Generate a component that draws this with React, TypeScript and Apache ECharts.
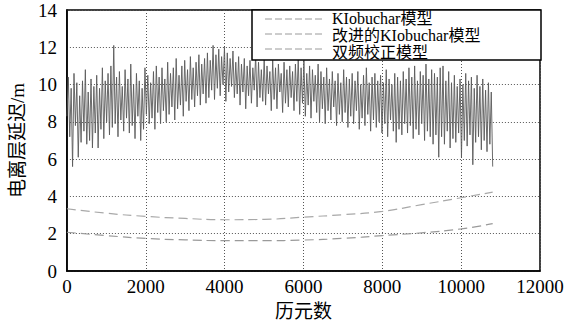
import React, { useEffect, useRef } from "react";
import * as echarts from "echarts";

// x ticks / y ticks
const xTicks = [0, 2000, 4000, 6000, 8000, 10000, 12000];
const yTicks = [0, 2, 4, 6, 8, 10, 12, 14];

// noisy dual-frequency series, one value every 36 epochs from 0 to 10800
const dualStep = 36;
const dualValues = [
  8.3, 10.4, 7.2, 9.8, 5.6, 10.6, 7.8, 10.1, 6.1, 9.4, 6.9, 10.2, 7.5, 10.8, 6.8, 9.6, 7.0, 10.3, 6.6, 9.9,
  7.4, 10.5, 6.6, 9.8, 7.6, 10.9, 7.1, 10.2, 8.0, 10.6, 7.3, 11.0, 7.7, 12.1, 7.9, 10.4, 7.2, 10.7, 8.1, 9.9,
  7.5, 10.8, 8.2, 10.3, 7.4, 11.1, 7.8, 10.0, 7.1, 10.6, 8.3, 10.2, 7.0, 9.8, 7.6, 10.9, 8.4, 10.5, 7.9, 10.1,
  8.2, 10.7, 7.6, 11.0, 8.5, 10.4, 7.9, 10.9, 8.6, 10.3, 8.0, 11.2, 8.4, 10.6, 8.8, 10.9, 8.1, 11.4, 8.7, 10.5,
  8.9, 11.0, 8.3, 11.3, 9.1, 10.8, 8.6, 11.5, 9.2, 10.9, 8.8, 11.2, 9.4, 11.6, 8.9, 11.1, 9.5, 11.4, 9.0, 11.7,
  9.3, 11.3, 9.7, 12.1, 9.2, 11.6, 9.8, 11.9, 9.4, 11.5, 10.0, 12.0, 9.1, 11.7, 9.6, 11.4, 9.9, 11.8, 9.3, 11.2,
  9.5, 11.5, 8.9, 11.1, 9.6, 11.4, 8.7, 11.0, 9.4, 11.3, 9.0, 10.9, 9.7, 11.6, 8.8, 11.2, 9.3, 10.8, 9.1, 11.4,
  8.9, 11.0, 9.5, 10.7, 8.6, 11.3, 9.2, 10.9, 8.7, 11.1, 9.6, 10.6, 8.5, 11.2, 9.0, 10.8, 8.8, 11.0, 9.3, 10.7,
  8.6, 11.1, 9.1, 11.4, 8.4, 10.9, 9.0, 11.3, 8.3, 10.6, 8.9, 11.0, 8.2, 10.8, 9.1, 10.5, 8.5, 11.1, 8.0, 10.7,
  8.7, 10.4, 7.9, 10.9, 8.6, 10.3, 8.1, 10.7, 8.8, 10.2, 7.8, 10.6, 8.4, 10.1, 8.0, 10.8, 8.5, 10.4, 7.7, 10.3,
  8.3, 10.6, 7.9, 10.2, 8.6, 10.7, 7.6, 10.0, 8.2, 10.5, 7.8, 10.9, 8.4, 10.1, 7.5, 10.4, 8.1, 10.6, 7.7, 10.2,
  8.0, 10.5, 7.4, 10.1, 7.9, 10.8, 7.2, 10.3, 8.1, 10.0, 7.5, 10.6, 6.9, 10.4, 7.6, 10.2, 7.3, 10.7, 7.9, 10.3,
  7.4, 10.9, 7.8, 10.4, 7.1, 11.0, 7.6, 10.2, 7.3, 10.7, 7.9, 10.5, 7.0, 11.1, 7.5, 10.3, 7.2, 10.8, 6.8, 10.6,
  7.3, 10.4, 6.1, 10.9, 7.2, 11.0, 6.8, 10.2, 7.5, 10.7, 6.6, 10.1, 7.1, 10.5, 6.9, 9.9, 7.4, 10.3, 6.1, 10.0,
  7.0, 10.6, 6.7, 10.2, 7.3, 10.4, 5.7, 9.8, 6.9, 10.5, 7.2, 9.9, 6.5, 10.3, 7.0, 9.7, 6.4, 10.1, 6.8, 9.6,
  5.6,
];

// smooth model curves
const modelEpochs = [0, 1000, 2000, 3000, 4000, 5000, 6000, 7000, 8000, 9000, 10000, 10800];
const klobucharValues = [3.34, 3.1, 2.93, 2.82, 2.75, 2.77, 2.89, 3.02, 3.2, 3.56, 3.93, 4.23];
const improvedValues = [2.08, 1.9, 1.75, 1.67, 1.63, 1.63, 1.66, 1.75, 1.9, 2.05, 2.26, 2.54];

const legendNames = ["KIobuchar模型", "改进的KIobuchar模型", "双频校正模型"];
const xName = "历元数";
const yName = "电离层延迟/m";

const FONT_FAMILY = '"Liberation Serif", "Noto Sans CJK SC", serif';

export default function App() {
  const ref = useRef<HTMLDivElement>(null);
  useEffect(() => {
    if (!ref.current) return;
    const chart = echarts.init(ref.current, undefined, { renderer: "svg" });
    const dualData = dualValues.map((v, i) => [i * dualStep, v]);
    const kloData = modelEpochs.map((e, i) => [e, klobucharValues[i]]);
    const impData = modelEpochs.map((e, i) => [e, improvedValues[i]]);

    const legendX0 = 265;
    const legendX1 = 323;
    const legendRows = [19, 34, 49];
    const textRows = [18, 35, 52];

    const graphics: any[] = [
      {
        type: "rect",
        z: 100,
        shape: { x: 252, y: 10, width: 289, height: 50 },
        style: { fill: "#fff", stroke: "#000", lineWidth: 1.5 },
      },
    ];
    legendNames.forEach((name, i) => {
      graphics.push({
        type: "line",
        z: 101,
        shape: { x1: legendX0, y1: legendRows[i], x2: legendX1, y2: legendRows[i] },
        style: { stroke: "#9a9a9a", lineWidth: 1, lineDash: [7, 3] },
      });
      graphics.push({
        type: "text",
        z: 101,
        x: 332,
        y: textRows[i],
        style: {
          text: name,
          fill: "#000",
          font: `16px ${FONT_FAMILY}`,
          verticalAlign: "middle",
          align: "left",
        },
      });
    });

    chart.setOption({
      animation: false,
      backgroundColor: "#fff",
      grid: {
        left: 62,
        right: 31,
        top: 10,
        bottom: 56,
        show: true,
        borderColor: "#000",
        borderWidth: 1.5,
        backgroundColor: "transparent",
      },
      xAxis: {
        type: "value",
        min: xTicks[0],
        max: xTicks[xTicks.length - 1],
        interval: 2000,
        name: xName,
        nameLocation: "middle",
        nameGap: 31,
        nameTextStyle: { fontFamily: FONT_FAMILY, fontSize: 19, color: "#000" },
        axisLine: { lineStyle: { color: "#000", width: 1.5 } },
        axisTick: { show: false },
        axisLabel: {
          fontFamily: FONT_FAMILY,
          fontSize: 19,
          color: "#000",
          margin: 6,
          formatter: (v: number) => String(v),
        },
        splitLine: { show: true, lineStyle: { color: "#555", type: [1, 2], width: 1 } },
      },
      yAxis: {
        type: "value",
        min: yTicks[0],
        max: yTicks[yTicks.length - 1],
        interval: 2,
        name: yName,
        nameLocation: "middle",
        nameGap: 36,
        nameTextStyle: { fontFamily: FONT_FAMILY, fontSize: 19, color: "#000" },
        axisLine: { lineStyle: { color: "#000", width: 1.5 } },
        axisTick: { show: false },
        axisLabel: {
          fontFamily: FONT_FAMILY,
          fontSize: 19,
          color: "#000",
          margin: 10,
          formatter: (v: number) => String(v),
        },
        splitLine: { show: true, lineStyle: { color: "#555", type: [1, 2], width: 1 } },
      },
      series: [
        {
          name: legendNames[2],
          type: "line",
          data: dualData,
          showSymbol: false,
          symbol: "none",
          lineStyle: { color: "#5a5a5a", width: 0.9 },
          z: 3,
        },
        {
          name: legendNames[0],
          type: "line",
          data: kloData,
          smooth: true,
          showSymbol: false,
          symbol: "none",
          lineStyle: { color: "#a8a8a8", width: 1.2, type: [9, 5] },
          z: 4,
        },
        {
          name: legendNames[1],
          type: "line",
          data: impData,
          smooth: true,
          showSymbol: false,
          symbol: "none",
          lineStyle: { color: "#9a9a9a", width: 1.2, type: [9, 5] },
          z: 4,
        },
      ],
      graphic: graphics,
    });
    return () => chart.dispose();
  }, []);
  return <div ref={ref} style={{ width: 571, height: 327, position: "absolute", left: 0, top: 0 }} />;
}
